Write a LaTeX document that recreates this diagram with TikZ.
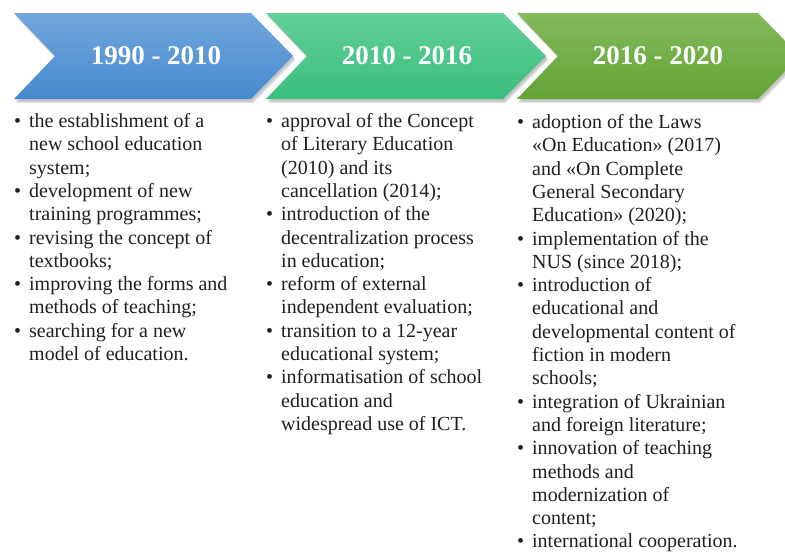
\documentclass[tikz,border=0pt]{standalone}
\usepackage{fontspec}
\setmainfont{Liberation Serif}
\usetikzlibrary{shadows}
\definecolor{blueTop}{RGB}{114,166,221}
\definecolor{blueBot}{RGB}{70,138,206}
\definecolor{tealTop}{RGB}{99,207,153}
\definecolor{tealBot}{RGB}{58,190,126}
\definecolor{greenTop}{RGB}{131,186,92}
\definecolor{greenBot}{RGB}{99,164,54}
\begin{document}
\begin{tikzpicture}[x=1pt,y=-1pt,
  chevron/.style={shading=axis,
    drop shadow={opacity=0.22,shadow xshift=2.5pt,shadow yshift=-4pt},
    drop shadow={opacity=0.3,shadow xshift=1.5pt,shadow yshift=-2.5pt}},
  period/.style={font=\fontsize{27}{30}\selectfont\bfseries,text=white,inner sep=0pt},
  items/.style={anchor=north west,inner sep=0pt,text=black!88,font=\fontsize{20}{23.3}\selectfont}]
\useasboundingbox (0,0) rectangle (785,552);
%% arrows
  \path [chevron,top color=blueTop,bottom color=blueBot] (14,13) -- (251,13) -- (293,56) -- (251,99) -- (14,99) -- (55,56) -- cycle;
  \path [chevron,top color=tealTop,bottom color=tealBot] (266,13) -- (503,13) -- (546,56) -- (503,99) -- (266,99) -- (307,56) -- cycle;
  \path [chevron,top color=greenTop,bottom color=greenBot] (517,13) -- (758,13) -- (800,56) -- (758,99) -- (517,99) -- (558,56) -- cycle;
  \node [period] (period_0) at (156,56) {1990 - 2010};
  \node [period] (period_1) at (407,56) {2010 - 2016};
  \node [period] (period_2) at (658,56) {2016 - 2020};
%% lists
  \node [items] (list_0) at (14,111) {\begin{tabular}{@{}p{15pt}@{}l@{}}
    \textbullet & the establishment of a\\ & new school education\\ & system;\\
    \textbullet & development of new\\ & training programmes;\\
    \textbullet & revising the concept of\\ & textbooks;\\
    \textbullet & improving the forms and\\ & methods of teaching;\\
    \textbullet & searching for a new\\ & model of education.
  \end{tabular}};
  \node [items] (list_1) at (266,111) {\begin{tabular}{@{}p{15pt}@{}l@{}}
    \textbullet & approval of the Concept\\ & of Literary Education\\ & (2010) and its\\ & cancellation (2014);\\
    \textbullet & introduction of the\\ & decentralization process\\ & in education;\\
    \textbullet & reform of external\\ & independent evaluation;\\
    \textbullet & transition to a 12-year\\ & educational system;\\
    \textbullet & informatisation of school\\ & education and\\ & widespread use of ICT.
  \end{tabular}};
  \node [items] (list_2) at (517,112) {\begin{tabular}{@{}p{15pt}@{}l@{}}
    \textbullet & adoption of the Laws\\ & «On Education» (2017)\\ & and «On Complete\\ & General Secondary\\ & Education» (2020);\\
    \textbullet & implementation of the\\ & NUS (since 2018);\\
    \textbullet & introduction of\\ & educational and\\ & developmental content of\\ & fiction in modern\\ & schools;\\
    \textbullet & integration of Ukrainian\\ & and foreign literature;\\
    \textbullet & innovation of teaching\\ & methods and\\ & modernization of\\ & content;\\
    \textbullet & international cooperation.
  \end{tabular}};
\end{tikzpicture}
\end{document}
